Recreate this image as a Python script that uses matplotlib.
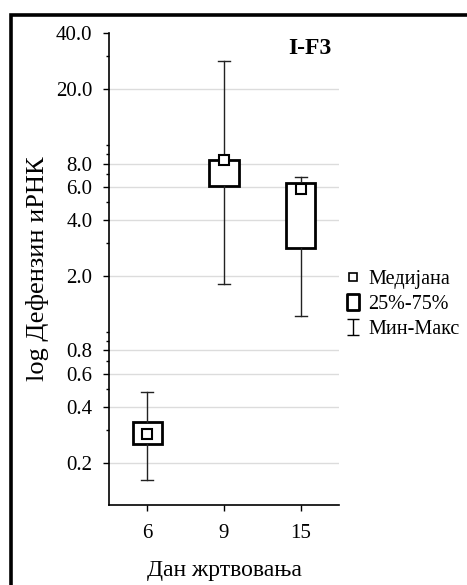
import matplotlib
matplotlib.use("Agg")
import matplotlib.pyplot as plt
from matplotlib.path import Path
from matplotlib.lines import Line2D
from matplotlib.patches import Rectangle
from matplotlib.ticker import FixedLocator, LogLocator, NullFormatter, FixedFormatter

plt.rcParams['font.family'] = ['Liberation Serif', 'DejaVu Serif']

# Data: defensin mRNA levels by sacrifice day
days = ["6", "9", "15"]
medians = [0.287, 8.40, 5.83]
q1 = [0.253, 6.05, 2.83]
q3 = [0.329, 8.38, 6.28]
mins = [0.162, 1.81, 1.22]
maxs = [0.481, 28.2, 6.79]

ytick_values = [0.2, 0.4, 0.6, 0.8, 2.0, 4.0, 6.0, 8.0, 20.0, 40.0]
ytick_labels = ["0.2", "0.4", "0.6", "0.8", "2.0", "4.0", "6.0", "8.0", "20.0", "40.0"]
grid_values = [0.2, 0.4, 0.6, 0.8, 2.0, 4.0, 6.0, 8.0, 20.0]

legend_labels = ["Медијана", "25%-75%", "Мин-Макс"]

fig = plt.figure(figsize=(4.67, 5.85), dpi=100)
ax = fig.add_axes([109 / 467, 80 / 585, 230 / 467, 472 / 585])

ax.set_yscale('log')
ax.set_ylim(0.119, 40)
ax.set_xlim(0.5, 3.5)

for g in grid_values:
    ax.axhline(g, color='#dcdcdc', lw=1.0, zorder=0)

positions = [1, 2, 3]
stats = []
for i in range(len(days)):
    stats.append(dict(med=medians[i], q1=q1[i], q3=q3[i],
                      whislo=mins[i], whishi=maxs[i], label=days[i]))

ax.bxp(stats, positions=positions, widths=0.38, capwidths=0.16,
       showfliers=False, patch_artist=True,
       boxprops=dict(facecolor='white', edgecolor='black', linewidth=2.0),
       whiskerprops=dict(color='#222222', linewidth=1.0),
       capprops=dict(color='#222222', linewidth=1.0),
       medianprops=dict(linewidth=0),
       zorder=3)

ax.plot(positions, medians, linestyle='none', marker='s', markersize=7.5,
        markerfacecolor='white', markeredgecolor='black', markeredgewidth=1.5,
        zorder=5)

ax.yaxis.set_major_locator(FixedLocator(ytick_values))
ax.yaxis.set_major_formatter(FixedFormatter(ytick_labels))
ax.yaxis.set_minor_locator(LogLocator(base=10, subs=range(1, 10)))
ax.yaxis.set_minor_formatter(NullFormatter())
ax.set_xticks(positions)
ax.set_xticklabels(days)

ax.tick_params(axis='both', which='major', labelsize=15, length=4, width=1,
               color='black')
ax.tick_params(axis='y', which='major', pad=8)
ax.tick_params(axis='y', which='minor', length=2.5, width=1)
ax.tick_params(axis='x', which='major', pad=10)

for side in ('top', 'right'):
    ax.spines[side].set_visible(False)
for side in ('left', 'bottom'):
    ax.spines[side].set_linewidth(1.2)

ax.set_ylabel("log Дефензин иРНК", fontsize=19, labelpad=5)
ax.set_xlabel("Дан жртвовања", fontsize=17, labelpad=12)
ax.text(0.874, 0.968, "I-F3", transform=ax.transAxes, fontsize=17,
        fontweight='bold', ha='center', va='center')

# Legend symbols
ibeam = Path([(-0.75, -1), (0.75, -1), (0, -1), (0, 1), (-0.75, 1), (0.75, 1)],
             [Path.MOVETO, Path.LINETO, Path.MOVETO, Path.LINETO,
              Path.MOVETO, Path.LINETO])
tall_box = Path([(-0.75, -1), (0.75, -1), (0.75, 1), (-0.75, 1), (-0.75, -1)],
                [Path.MOVETO, Path.LINETO, Path.LINETO, Path.LINETO, Path.CLOSEPOLY])
handles = [
    Line2D([], [], linestyle='none', marker='s', markersize=6,
           markerfacecolor='white', markeredgecolor='black', markeredgewidth=1.2),
    Line2D([], [], linestyle='none', marker=tall_box, markersize=12,
           markerfacecolor='white', markeredgecolor='black', markeredgewidth=2.0),
    Line2D([], [], linestyle='none', marker=ibeam, markersize=11.5,
           markerfacecolor='none', markeredgecolor='black', markeredgewidth=1.0),
]
fig.legend(handles, legend_labels, loc='upper left',
           bbox_to_anchor=(344 / 467, 1 - 270 / 585), bbox_transform=fig.transFigure,
           frameon=False, fontsize=14.5, handlelength=0.9, handletextpad=0.3,
           labelspacing=0.3, borderpad=0, borderaxespad=0)

# Outer frame cut off at the right and bottom edges
fig.patches.append(Rectangle((10.5 / 467, -0.1), 1.2, 1 - 14.5 / 585 + 0.1,
                             transform=fig.transFigure, fill=False,
                             edgecolor='black', linewidth=2.6))

fig.savefig("out.png", dpi=100)
